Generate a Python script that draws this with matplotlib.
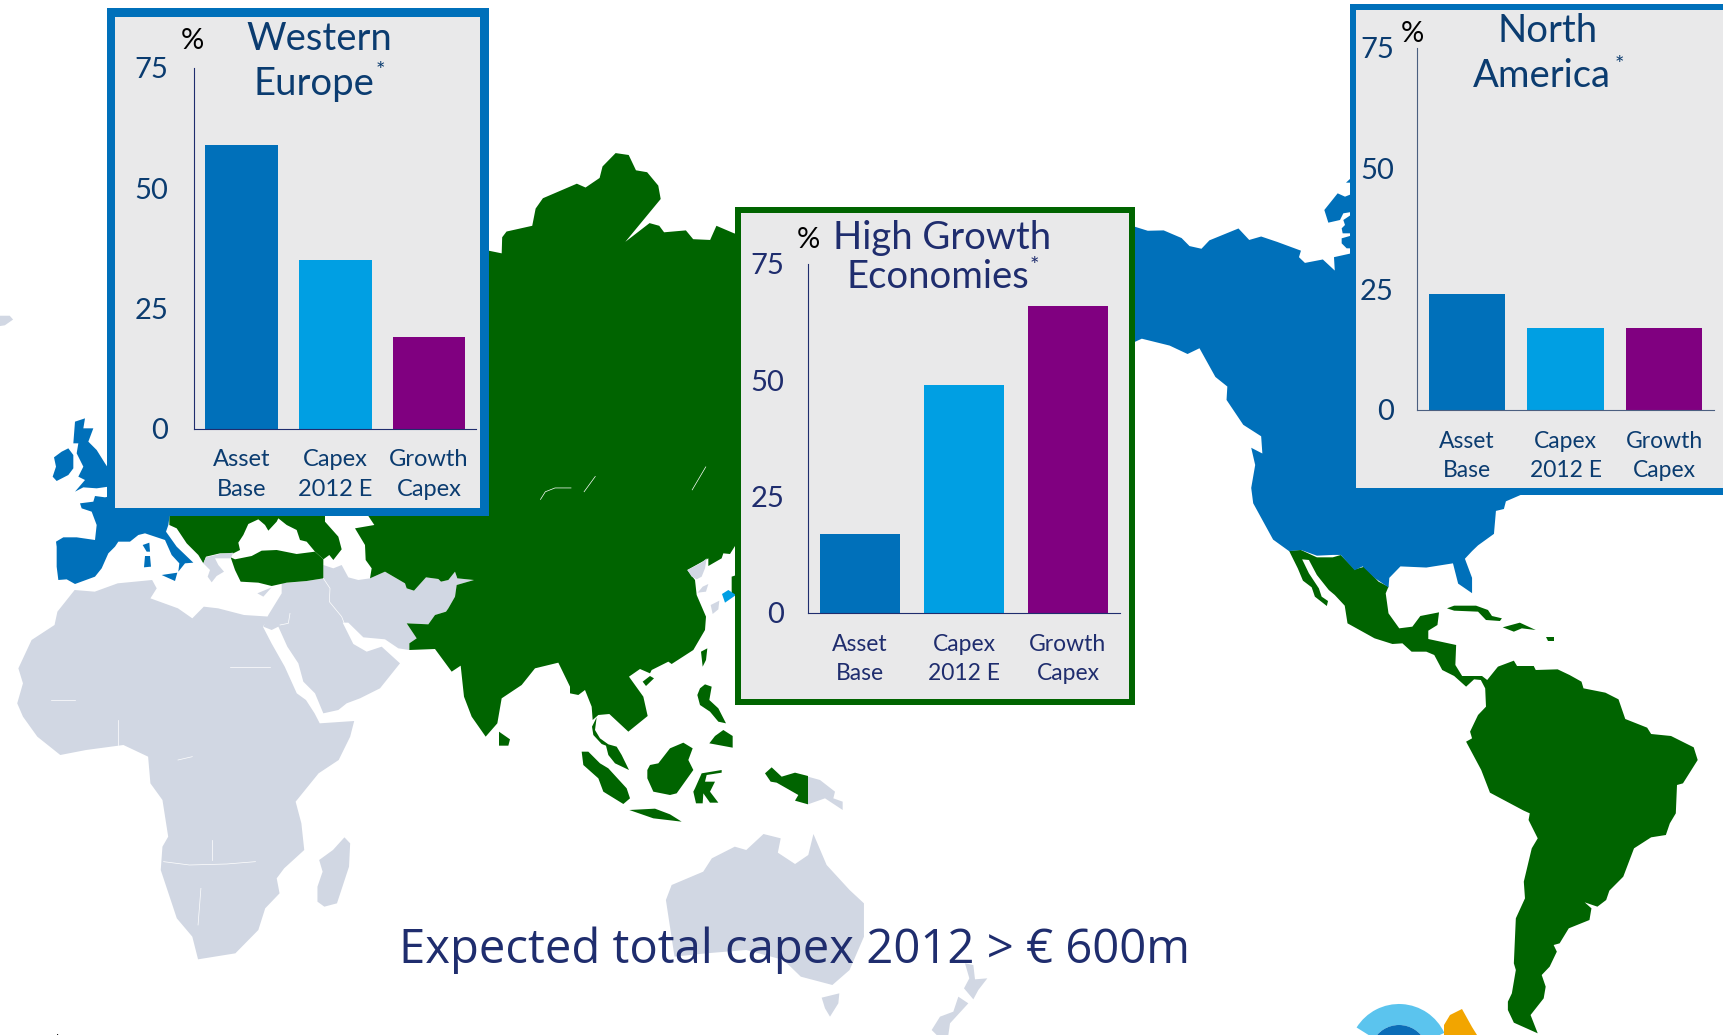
import matplotlib
matplotlib.use("Agg")
import matplotlib.pyplot as plt
from matplotlib.patches import Polygon, Rectangle, Wedge

W, H = 1724, 1035

# --- chart data ---
categories = ["Asset\nBase", "Capex\n2012 E", "Growth\nCapex"]
western_europe = [59, 35, 19]
high_growth = [17, 49, 66]
north_america = [24, 17, 17]
y_ticks = [0, 25, 50, 75]
bar_colors = ["#0070BA", "#009FE3", "#800080"]

headline = "Expected total capex 2012 > € 600m"
footnote = "* Geographical distribution as % of Group RCM"

# --- map outlines, traced off crops of the original ---
# crop = (left, top, x scale, y scale)
CROP_A = (0, 0, 2.063, 2.613)
CROP_B = (0, 560, 1.742, 3)
CROP_C = (1100, 0, 2.513, 2.613)
CROP_D = (1100, 540, 2.513, 3)
CROP_E = (400, 480, 3, 3)
CROP_F = (40, 400, 3, 3)
CROP_G = (200, 500, 3, 3)
CROP_H = (780, 900, 3, 3)
CROP_I = (1290, 170, 3, 3)

africa = [(130, 90), (165, 95), (205, 70), (265, 60), (273, 85), (262, 115), (310, 145), (335, 175),
          (355, 140), (380, 145), (425, 165), (470, 170), (458, 200), (473, 250), (496, 320), (517, 400),
          (533, 420), (548, 460), (557, 490), (617, 483), (610, 530), (590, 600), (555, 640), (515, 725), (525, 790),
          (530, 870), (495, 925), (482, 955), (487, 1000), (462, 1045), (450, 1110), (410, 1180), (345, 1198),
          (335, 1130), (308, 1075), (280, 930), (283, 860), (293, 830), (283, 720), (262, 670), (258, 590),
          (215, 555), (150, 570), (105, 585), (65, 530), (40, 470), (30, 430), (40, 370), (32, 325),
          (55, 240), (95, 195), (100, 155)]
madagascar = [(600, 832), (610, 850), (608, 920), (587, 1030), (565, 1040), (553, 1025), (553, 980),
              (562, 935), (556, 900), (580, 870)]
australia = [(1330, 822), (1360, 835), (1355, 878), (1385, 912), (1408, 885), (1417, 822), (1440, 915),
             (1480, 990), (1505, 1030), (1505, 1130), (1480, 1230), (1450, 1275), (1395, 1250), (1365, 1200),
             (1300, 1170), (1230, 1180), (1175, 1190), (1160, 1020), (1170, 975), (1225, 935), (1240, 895),
             (1280, 860), (1300, 870)]
tasmania = [(125, 293), (178, 280), (175, 310), (150, 350), (135, 325)]
nz_north = [(555, 190), (580, 195), (585, 238), (622, 235), (595, 270), (580, 298), (552, 265), (568, 235)]
nz_south = [(535, 290), (565, 310), (510, 370), (505, 405), (470, 405), (455, 390), (480, 350), (520, 335)]
middle_east = [(245, 250), (320, 243), (370, 235), (370, 195), (400, 205), (425, 195), (445, 232), (475, 240),
               (510, 235), (555, 215), (615, 250), (620, 265), (642, 272), (678, 232), (715, 237), (723, 245),
               (745, 240), (765, 215), (772, 235), (822, 240), (770, 255), (765, 290), (745, 325), (738, 335),
               (705, 345), (685, 373), (620, 370), (650, 415), (628, 430), (628, 450), (595, 445), (555, 418),
               (490, 412), (445, 368), (428, 368), (460, 432), (500, 455), (545, 440), (600, 490), (540, 565),
               (480, 595), (440, 610), (415, 630), (370, 640), (345, 580), (310, 545), (295, 490), (262, 440),
               (235, 380), (215, 390), (190, 380), (205, 345), (245, 280)]
cyprus = [(172, 280), (215, 262), (190, 290)]
greece = [(490, 490), (498, 472), (540, 462), (580, 458), (572, 475), (525, 475), (535, 495), (552, 515),
          (530, 528), (515, 547), (503, 530), (510, 510)]
swiss = [(280, 350), (345, 350), (325, 368), (295, 365)]
iceland = [(0, 825), (20, 825), (27, 835), (10, 850), (0, 852)]
korea = [(862, 270), (905, 248), (920, 235), (915, 265), (905, 290), (890, 298), (875, 290)]
south_korea = [(893, 338), (908, 320), (925, 312), (918, 335)]
kyushu = [(932, 375), (958, 362), (955, 388), (938, 402)]
new_guinea_east = [(1224, 890), (1260, 900), (1305, 935), (1300, 955), (1328, 965), (1328, 990), (1275, 955),
                   (1224, 973)]

asia_north = [(1008, 655), (1035, 662), (1036, 620), (1045, 605), (1098, 590), (1105, 545), (1120, 518),
              (1190, 480), (1208, 490), (1237, 465), (1243, 435), (1270, 400), (1297, 405), (1312, 445),
              (1335, 450), (1358, 485), (1363, 520), (1290, 632), (1340, 583), (1360, 590), (1370, 607),
              (1415, 602), (1430, 625), (1465, 627), (1478, 590), (1515, 610), (1550, 610), (1550, 1400),
              (1000, 1400)]
asia_south = [(-95, 0), (-95, 108), (-77, 135), (-135, 145), (-105, 195), (-103, 240), (-85, 265), (-90, 295),
              (-45, 275), (15, 310), (20, 325), (42, 332), (78, 292), (115, 297), (123, 305), (145, 300),
              (165, 275), (172, 295), (222, 300), (170, 315), (165, 350), (145, 385), (138, 395), (105, 405),
              (85, 433), (20, 430), (50, 475), (28, 490), (28, 510), (105, 507), (155, 575), (182, 557),
              (192, 650), (215, 710), (257, 770), (292, 730), (305, 655), (365, 615), (405, 565), (475, 548),
              (510, 620), (510, 640), (535, 645), (555, 630), (575, 680), (578, 720), (595, 705), (628, 702),
              (685, 755), (743, 708), (730, 650), (687, 590), (720, 567), (750, 580), (755, 570), (805, 545),
              (815, 552), (880, 510), (915, 450), (918, 410), (890, 345), (885, 300), (862, 270), (925, 235),
              (925, 258), (965, 235), (970, 220), (990, 222), (1005, 198), (1010, 0)]
east_europe = [(-92, 40), (-92, 75), (-70, 85), (-40, 130), (-5, 165), (10, 190), (18, 170), (60, 160), (100, 160),
               (120, 150), (115, 128), (130, 105), (145, 72), (175, 58), (195, 75), (205, 92), (230, 65), (235, 55),
               (260, 75), (290, 90), (300, 120), (320, 125), (345, 155), (370, 178), (388, 165), (400, 180),
               (425, 148), (415, 110), (375, 65), (375, 40)]
turkey = [(92, 172), (105, 178), (155, 168), (185, 152), (230, 150), (290, 162), (345, 155), (370, 178), (370, 235),
          (320, 243), (260, 248), (215, 258), (175, 248), (122, 245), (105, 210)]
hainan = [(728, 605), (750, 588), (762, 595), (738, 618)]
taiwan = [(903, 515), (922, 505), (918, 540), (908, 560)]
luzon = [(900, 625), (915, 613), (935, 620), (928, 660), (955, 685), (978, 730), (955, 725), (930, 695), (900, 675),
         (892, 645)]
mindanao = [(928, 790), (945, 768), (970, 750), (998, 768), (998, 803)]
malay = [(590, 712), (576, 740), (580, 765), (605, 792), (618, 797), (625, 825), (645, 850), (687, 870), (665, 825),
         (650, 800), (625, 793), (600, 775), (585, 750)]
sumatra = [(545, 815), (565, 815), (600, 850), (625, 865), (680, 925), (690, 955), (670, 972), (610, 935), (595, 895),
           (550, 855)]
borneo = [(742, 870), (750, 855), (775, 850), (810, 805), (850, 788), (878, 805), (865, 840), (880, 870), (830, 940),
          (810, 945), (760, 935), (742, 895)]
sulawesi = [(885, 925), (905, 880), (965, 870), (965, 878), (920, 885), (915, 905), (945, 905), (930, 935), (955, 968),
            (930, 968), (910, 940), (908, 970), (888, 970), (880, 935)]
java = [(688, 990), (765, 986), (810, 1003), (845, 1025), (760, 1015)]
sri_lanka = [(297, 755), (330, 778), (325, 797), (297, 797)]
new_guinea_west = [(1095, 880), (1115, 862), (1145, 890), (1185, 878), (1224, 888), (1224, 973), (1185, 962),
                   (1195, 945), (1130, 908), (1112, 905)]
japan_sliver = [(995, 290), (1010, 285), (1010, 345), (995, 345)]
latam = [(475, 32), (505, 30), (545, 52), (585, 52), (605, 45), (640, 88), (665, 80), (700, 125), (725, 140), (718, 160),
         (725, 220), (752, 265), (785, 260), (805, 228), (852, 217), (848, 255), (825, 272), (825, 297), (895, 315),
         (893, 375), (910, 408), (960, 408), (973, 420), (1000, 380), (1040, 362), (1048, 378), (1090, 378), (1095, 390),
         (1150, 388), (1180, 405), (1210, 425), (1215, 445), (1270, 458), (1303, 478), (1320, 537), (1375, 563),
         (1385, 582), (1435, 588), (1492, 622), (1502, 660), (1465, 730), (1450, 735), (1447, 820), (1432, 850),
         (1422, 885), (1385, 892), (1342, 925), (1315, 1010), (1280, 1052), (1272, 1080), (1250, 1100), (1218, 1087),
         (1235, 1105), (1230, 1140), (1178, 1165), (1155, 1210), (1140, 1215), (1148, 1235), (1130, 1280), (1110, 1305),
         (1120, 1340), (1115, 1375), (1082, 1425), (1100, 1480), (1040, 1448), (1025, 1410), (1025, 1385), (1035, 1360),
         (1045, 1290), (1040, 1270), (1045, 1135), (1068, 1075), (1065, 1025), (1085, 925), (1100, 895), (1077, 840),
         (1080, 820), (1065, 812), (980, 758), (958, 690), (920, 605), (935, 595), (930, 575), (950, 525), (970, 500),
         (968, 445), (957, 420), (940, 418), (920, 440), (890, 408), (860, 390), (840, 345), (820, 335), (783, 335),
         (760, 310), (735, 312), (690, 295), (622, 250), (615, 197), (590, 165), (575, 150), (545, 105), (525, 60),
         (508, 58), (525, 100), (550, 145), (557, 170), (573, 183), (570, 198), (540, 170), (532, 142), (510, 122),
         (497, 85)]
cuba = [(872, 205), (890, 197), (945, 197), (975, 210), (985, 228), (1010, 235), (1005, 243), (970, 240), (950, 215),
        (890, 212)]
hispaniola = [(1012, 262), (1055, 248), (1095, 270), (1060, 265), (1040, 275)]
puerto_rico = [(1122, 292), (1140, 292), (1140, 302), (1125, 302)]

uk = [(105, 65), (135, 55), (130, 85), (160, 85), (145, 125), (170, 150), (195, 190), (205, 205), (205, 260), (170, 265),
      (130, 262), (105, 275), (135, 240), (115, 230), (130, 200), (110, 160), (115, 130), (100, 130)]
ireland = [(65, 155), (85, 145), (100, 165), (100, 205), (85, 225), (50, 243), (38, 230), (48, 200), (42, 172)]
west_europe = [(120, 310), (160, 305), (165, 288), (195, 292), (205, 290), (230, 340), (390, 340), (385, 375), (378, 395),
               (410, 440), (460, 488), (435, 490), (415, 515), (418, 490), (395, 465), (375, 420), (345, 410), (315, 400),
               (295, 405), (270, 425), (235, 425), (225, 440), (205, 460), (185, 505), (165, 530), (105, 552), (80, 538),
               (55, 540), (50, 500), (50, 440), (48, 425), (70, 412), (110, 412), (165, 420), (170, 375), (155, 335),
               (125, 325)]
corsica = [(308, 435), (328, 428), (330, 455), (320, 455)]
sardinia = [(315, 468), (330, 468), (333, 500), (312, 502)]
sicily = [(365, 525), (412, 518), (405, 543)]
usa_canada = [(80, 590), (120, 603), (160, 602), (205, 622), (225, 643), (255, 650), (275, 628), (348, 597), (375, 627),
              (405, 618), (445, 632), (505, 655), (500, 672), (515, 687), (560, 678), (590, 707), (588, 672), (640, 660),
              (1000, 660), (1060, 1292), (1020, 1310), (1015, 1330), (995, 1335), (990, 1395), (950, 1425), (935, 1440),
              (917, 1460), (935, 1510), (935, 1550), (900, 1525), (887, 1472), (820, 1483), (755, 1480), (727, 1510),
              (725, 1535), (690, 1510), (660, 1480), (640, 1490), (605, 1450), (585, 1450), (545, 1452), (505, 1437),
              (475, 1440), (435, 1410), (385, 1315), (380, 1275), (390, 1215), (380, 1170), (408, 1185), (405, 1140),
              (360, 1110), (318, 1045), (320, 1010), (290, 985), (250, 910), (220, 925), (175, 903), (105, 885), (80, 897)]
baffin = [(103, 120), (143, 70), (165, 80), (190, 70), (190, 125), (160, 130), (150, 150), (115, 158)]
ellesmere = [(168, 38), (182, 25), (190, 25), (190, 38)]
arctic_a = [(160, 150), (190, 130), (190, 190), (158, 190), (155, 175), (165, 165)]
arctic_b = [(155, 205), (190, 195), (190, 235), (170, 235), (155, 220)]
honshu = [(966, 342), (985, 330), (1008, 345), (975, 368)]

GREY = "#D1D7E3"
GREEN = "#006400"
BLUE = "#0070BA"
shapes = [
    (africa, CROP_B, GREY), (madagascar, CROP_B, GREY), (australia, CROP_B, GREY), (tasmania, CROP_H, GREY),
    (nz_north, CROP_H, GREY), (nz_south, CROP_H, GREY), (middle_east, CROP_G, GREY), (cyprus, CROP_G, GREY),
    (iceland, CROP_A, GREY), (new_guinea_east, CROP_E, GREY),
    (asia_north, CROP_A, GREEN), (asia_south, CROP_E, GREEN), (east_europe, CROP_G, GREEN), (turkey, CROP_G, GREEN),
    (hainan, CROP_E, GREEN), (taiwan, CROP_E, GREEN), (luzon, CROP_E, GREEN), (mindanao, CROP_E, GREEN),
    (malay, CROP_E, GREEN), (sumatra, CROP_E, GREEN), (borneo, CROP_E, GREEN), (sulawesi, CROP_E, GREEN),
    (java, CROP_E, GREEN), (sri_lanka, CROP_E, GREEN), (new_guinea_west, CROP_E, GREEN), (japan_sliver, CROP_E, GREEN),
    (latam, CROP_D, GREEN), (cuba, CROP_D, GREEN), (hispaniola, CROP_D, GREEN), (puerto_rico, CROP_D, GREEN),
    (greece, CROP_F, GREY), (swiss, CROP_F, GREY), (korea, CROP_E, GREY), (south_korea, CROP_E, GREY),
    (kyushu, CROP_E, GREY),
    (uk, CROP_F, BLUE), (ireland, CROP_F, BLUE), (west_europe, CROP_F, BLUE), (corsica, CROP_F, BLUE),
    (sardinia, CROP_F, BLUE), (sicily, CROP_F, BLUE), (usa_canada, CROP_C, BLUE), (baffin, CROP_I, BLUE),
    (ellesmere, CROP_I, BLUE), (arctic_a, CROP_I, BLUE), (arctic_b, CROP_I, BLUE),
    (honshu, CROP_E, "#009FE3"),
]

# thin country borders that show through
border_lines = [
    ([(400, 322), (470, 322)], CROP_B), ([(88, 420), (130, 420)], CROP_B), ([(205, 480), (205, 555)], CROP_B),
    ([(310, 600), (335, 590)], CROP_B), ([(370, 840), (370, 900)], CROP_B),
    ([(285, 905), (330, 915), (395, 912), (445, 905)], CROP_B), ([(350, 985), (345, 1095)], CROP_B),
    ([(370, 235), (390, 265), (388, 305), (425, 350), (432, 368)], CROP_G), ([(240, 375), (265, 370), (270, 340)], CROP_G),
    ([(1115, 1305), (1125, 1285), (1145, 1275), (1178, 1275)], CROP_A), ([(1205, 1285), (1228, 1245)], CROP_A),
    ([(1428, 1280), (1456, 1220)], CROP_A),
]


def to_px(points, crop):
    left, top, sx, sy = crop
    return [(left + x / sx, top + y / sy) for x, y in points]


def rect_of(left, top, right, bottom):
    return [left / W, 1 - bottom / H, (right - left) / W, (bottom - top) / H]


fig = plt.figure(figsize=(W / 100, H / 100), dpi=100, facecolor="white")
plt.rcParams["font.family"] = ["Lato", "DejaVu Sans"]

# --- Background map, in picture pixels ---
base = fig.add_axes([0, 0, 1, 1])
base.set_xlim(0, W)
base.set_ylim(H, 0)
base.axis("off")

for outline, crop, color in shapes:
    base.add_patch(Polygon(to_px(outline, crop), closed=True, facecolor=color, edgecolor="none", zorder=2))
for line, crop in border_lines:
    xs, ys = zip(*to_px(line, crop))
    base.plot(xs, ys, color="white", linewidth=0.5, zorder=3)

# logo, cut off by the bottom edge
base.add_patch(Wedge((1399, 1054), 50, 212, 335, width=21, facecolor="#5BC4EE", edgecolor="none", zorder=2))
base.add_patch(Wedge((1399, 1054), 29, 205, 335, facecolor="#0B6DB7", edgecolor="none", zorder=2))
base.add_patch(Polygon([(1444, 1035), (1444, 1025), (1450, 1015), (1462, 1009), (1472, 1027), (1477, 1035)],
                       closed=True, facecolor="#F2A500", edgecolor="none", zorder=2))

base.text(795, 963, headline, fontsize=34, color="#1F2D6E", family=["Open Sans", "DejaVu Sans"],
          ha="center", va="baseline", zorder=6)
base.text(52, 1055, footnote, fontsize=19, color="#222222", ha="left", va="baseline", zorder=6)


# --- The three framed panels ---
def draw_panel(frame, inner, plot_box, values, border, ink, spine_color, size, pad, titles, star, percent):
    l, t, r, b = frame
    base.add_patch(Rectangle((l, t), r - l, b - t, facecolor=border, edgecolor="none", zorder=4))
    il, it, ir, ib = inner
    base.add_patch(Rectangle((il, it), ir - il, ib - it, facecolor="#E9E9EA", edgecolor="none", zorder=5))

    ax = fig.add_axes(rect_of(*plot_box))
    ax.patch.set_visible(False)
    ax.bar(range(len(values)), values, width=0.775, color=bar_colors)
    ax.set_xlim(-0.5, 2.5)
    ax.set_ylim(0, 75)
    ax.set_yticks(y_ticks)
    ax.set_yticklabels([str(v) for v in y_ticks], fontsize=21, color=ink)
    ax.set_xticks(range(len(categories)))
    ax.set_xticklabels(categories, fontsize=size, color=ink, linespacing=1.5)
    ax.tick_params(axis="y", length=0, pad=pad)
    ax.tick_params(axis="x", length=0, pad=15)
    ax.spines[["top", "right"]].set_visible(False)
    ax.spines[["left", "bottom"]].set_color(spine_color)
    ax.spines[["left", "bottom"]].set_linewidth(0.8)

    for label, x, y in titles:
        base.text(x, y, label, fontsize=27.5, color=ink, ha="center", va="baseline", zorder=6)
    base.text(star[0], star[1], "*", fontsize=16, color=ink, ha="center", va="center", zorder=6)
    base.text(percent[0], percent[1], "%", fontsize=21, color="black", family=["Liberation Sans Narrow", "Lato"],
              ha="center", va="center", zorder=6)


draw_panel((107, 8, 489, 516), (115, 17, 480, 508), (194.4, 68, 476, 428.6), western_europe,
           "#0070BA", "#0B3C70", "#1F2D6E", 17, 19,
           [("Western", 319, 50), ("Europe", 314, 94.5)], (380, 71), (192, 41))
draw_panel((735, 207, 1135, 705), (741, 213, 1129, 699), (808, 264, 1120, 612.7), high_growth,
           "#006400", "#1F2D6E", "#1F2D6E", 16.5, 17,
           [("High Growth", 942.5, 249), ("Economies", 937.5, 288)], (1034, 266), (808, 240))
draw_panel((1350, 4, 1730, 494.5), (1356, 10, 1730, 488), (1417.5, 48, 1713.6, 410), north_america,
           "#0070BA", "#0B3C70", "#4B5F80", 16.5, 17,
           [("North", 1548, 42), ("America", 1542, 87)], (1619, 65), (1412, 34))

plt.savefig("out.png", dpi=100, facecolor="white")
